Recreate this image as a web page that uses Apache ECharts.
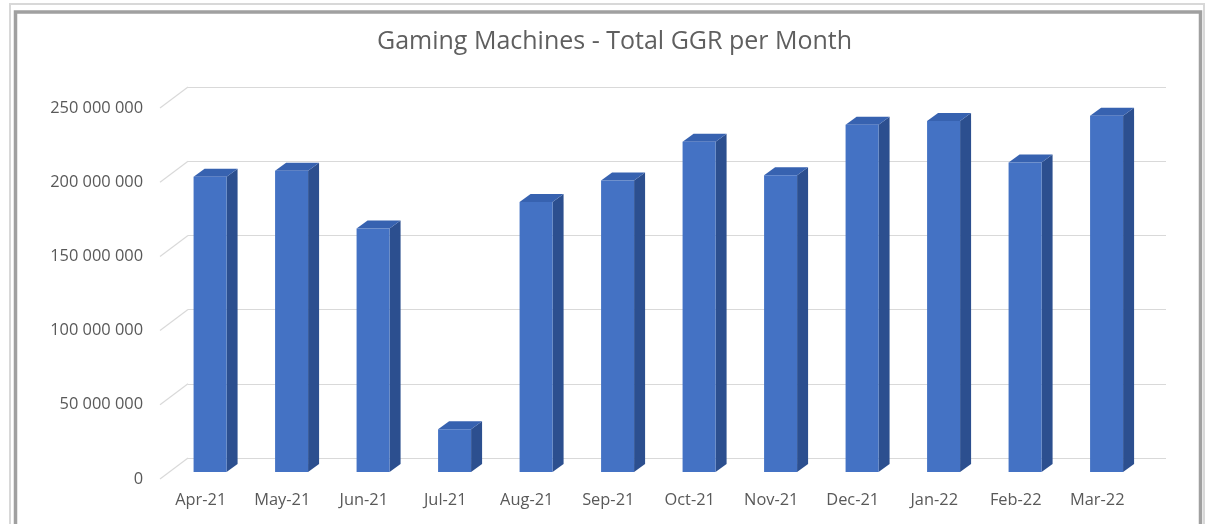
<!DOCTYPE html>
<html>
<head>
<meta charset="UTF-8">
<title>Gaming Machines - Total GGR per Month</title>
<script src="https://cdn.jsdelivr.net/npm/echarts@6/dist/echarts.min.js"></script>
<style>
    html, body{
        margin: 0;
        padding: 0;
        background: #fff;
    }
    #main{
        width: 1205px;
        height: 524px;
    }
</style>
</head>
<body>
    <div id="main"></div>
    <script type="text/javascript">
        // data
        var months = ['Apr-21','May-21','Jun-21','Jul-21','Aug-21','Sep-21','Oct-21','Nov-21','Dec-21','Jan-22','Feb-22','Mar-22'];
        var ggr = [199000000, 203000000, 164000000, 28800000, 182000000, 196500000, 222500000, 200000000, 234000000, 236500000, 208500000, 240000000];
        var yTicks = [0, 50000000, 100000000, 150000000, 200000000, 250000000];

        var myChart = echarts.init(document.getElementById('main'));

        // depth of the 3d box: front plane -> back wall
        var depthX = 28, depthY = 21;
        var txt = '#595959';
        var font = 'Open Sans';

        function fmt(v){
            return String(v).replace(/\B(?=(\d{3})+(?!\d))/g, ' ');
        }

        function renderBar(params, api){
            var i = api.value(0);
            var v = api.value(1);
            var top = api.coord([i, v]);
            var base = api.coord([i, 0]);
            var band = api.size([1, 0])[0];
            var w = band * 0.405;
            // front face of the bar sits 2/3 of the way to the front
            var fx = -depthX * 2 / 3, fy = depthY * 2 / 3;
            var d = 11, dd = 8;
            var x0 = top[0] - w / 2 + fx;
            var yt = top[1] + fy;
            var yb = base[1] + fy;
            return {
                type: 'group',
                children: [
                    {
                        type: 'polygon',
                        shape: {points: [[x0 + w, yt], [x0 + w + d, yt - dd], [x0 + w + d, yb - dd], [x0 + w, yb]]},
                        style: {fill: '#2c4f8f'}
                    },
                    {
                        type: 'polygon',
                        shape: {points: [[x0, yt], [x0 + d, yt - dd], [x0 + w + d, yt - dd], [x0 + w, yt]]},
                        style: {fill: '#3762b0'}
                    },
                    {
                        type: 'rect',
                        shape: {x: x0, y: yt, width: w, height: yb - yt},
                        style: {fill: '#4472c4'}
                    }
                ]
            };
        }

        function renderDiag(params, api){
            var p = api.coord([0, api.value(0)]);
            var x = params.coordSys.x;
            return {
                type: 'line',
                shape: {x1: x - depthX, y1: p[1] + depthY, x2: x, y2: p[1]},
                style: {stroke: '#d9d9d9', lineWidth: 1.2}
            };
        }

        var option = {
            backgroundColor: '#fff',
            animation: false,
            title: {
                text: 'Gaming Machines - Total GGR per Month',
                left: 372,
                top: 24,
                textStyle: {
                    fontFamily: font,
                    fontSize: 25,
                    fontWeight: 'normal',
                    color: '#5f5f5f'
                }
            },
            graphic: [
                {
                    type: 'rect',
                    shape: {x: 10, y: 4, width: 1194, height: 540},
                    style: {fill: 'none', stroke: '#d8d8d8', lineWidth: 2}
                },
                {
                    type: 'rect',
                    shape: {x: 15.5, y: 12, width: 1185, height: 530},
                    style: {fill: 'none', stroke: '#a0a0a0', lineWidth: 3.5}
                }
            ],
            grid: [
                // back wall
                {left: 188, right: 39, top: 87, bottom: 66},
                // front plane (labels)
                {left: 160, right: 67, top: 108, bottom: 45}
            ],
            xAxis: [
                {
                    type: 'category',
                    gridIndex: 0,
                    data: months,
                    axisLine: {show: false},
                    axisTick: {show: false},
                    axisLabel: {show: false}
                },
                {
                    type: 'category',
                    gridIndex: 1,
                    data: months,
                    axisLine: {show: false},
                    axisTick: {show: false},
                    axisLabel: {
                        margin: 13,
                        color: txt,
                        fontFamily: font,
                        fontSize: 16.4
                    }
                }
            ],
            yAxis: [
                {
                    type: 'value',
                    gridIndex: 0,
                    min: 0,
                    max: 250000000,
                    interval: 50000000,
                    axisLine: {show: false},
                    axisTick: {show: false},
                    axisLabel: {show: false},
                    splitLine: {lineStyle: {color: '#d9d9d9', width: 1.2}}
                },
                {
                    type: 'value',
                    gridIndex: 1,
                    min: 0,
                    max: 250000000,
                    interval: 50000000,
                    axisLine: {show: false},
                    axisTick: {show: false},
                    splitLine: {show: false},
                    axisLabel: {
                        margin: 17,
                        color: txt,
                        fontFamily: font,
                        fontSize: 16.4,
                        formatter: fmt
                    }
                }
            ],
            series: [
                {
                    type: 'custom',
                    xAxisIndex: 0,
                    yAxisIndex: 0,
                    renderItem: renderDiag,
                    data: yTicks.map(function(t){ return [t]; }),
                    silent: true
                },
                {
                    type: 'custom',
                    name: 'GGR',
                    xAxisIndex: 0,
                    yAxisIndex: 0,
                    renderItem: renderBar,
                    encode: {x: 0, y: 1},
                    data: ggr.map(function(v, i){ return [i, v]; })
                }
            ]
        };
        myChart.setOption(option);
    </script>
</body>
</html>
